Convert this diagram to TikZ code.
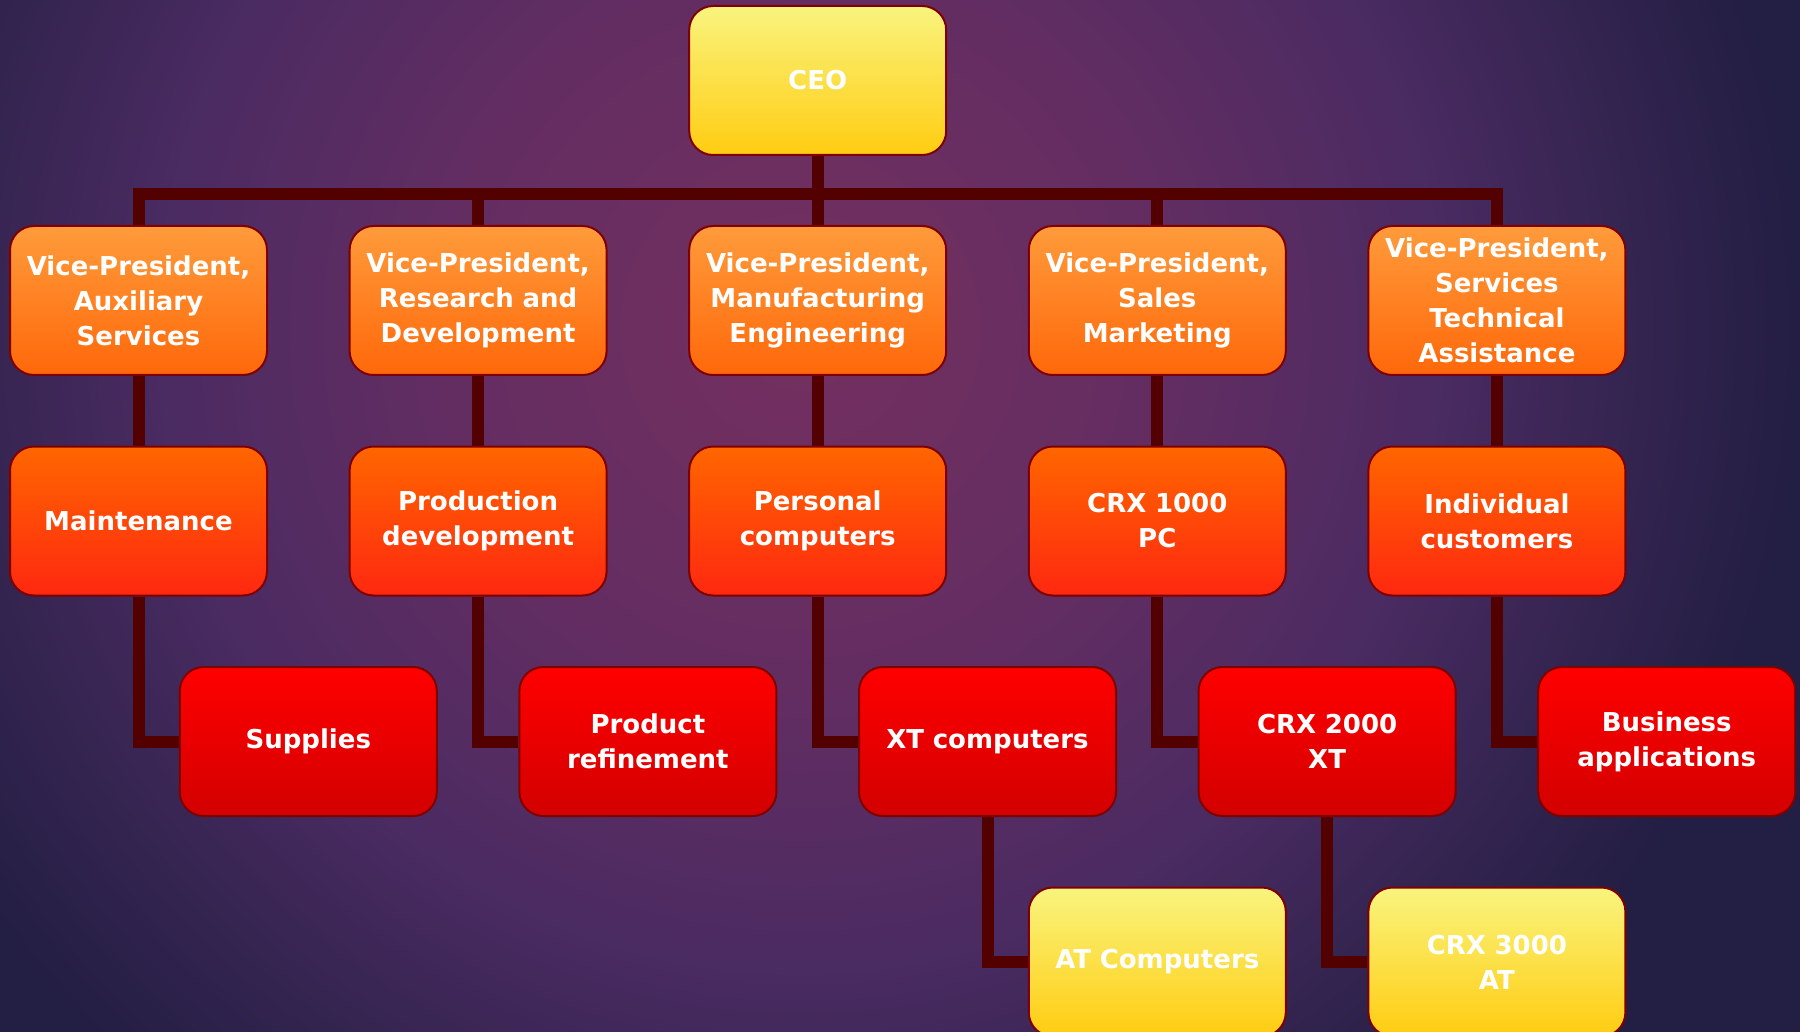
\documentclass[tikz,border=0pt]{standalone}
\usepackage{fontspec}
\setmainfont{DejaVu Sans}
\usetikzlibrary{calc}
\pgfdeclarelayer{bg}
\pgfdeclarelayer{lines}
\pgfsetlayers{bg,lines,main}
\definecolor{bgouter}{HTML}{231E43}
\definecolor{bgmid3}{HTML}{33244F}
\definecolor{bgmid}{HTML}{4A2B62}
\definecolor{bgmid2}{HTML}{632D62}
\definecolor{bginner}{HTML}{74305F}
\definecolor{conncol}{HTML}{520000}
\definecolor{edgecol}{HTML}{7F0000}
\definecolor{yelT}{HTML}{F9F47E}
\definecolor{yelB}{HTML}{FFCC11}
\definecolor{orT}{HTML}{FF9B3B}
\definecolor{orB}{HTML}{FF680A}
\definecolor{rorT}{HTML}{FF6600}
\definecolor{rorB}{HTML}{FF2810}
\definecolor{redT}{HTML}{FF0000}
\definecolor{redB}{HTML}{D30000}
\pgfdeclareradialshading{bgshade}{\pgfpoint{0bp}{0bp}}{%
  color(0bp)=(bginner); color(9bp)=(bgmid2); color(16bp)=(bgmid); color(21bp)=(bgmid3); color(25bp)=(bgouter); color(50bp)=(bgouter)}
\tikzset{
  box/.style={draw=edgecol, line width=2pt, rounded corners=24pt,
    minimum width=257pt, minimum height=149pt, text width=240pt, align=center,
    text=white, font=\fontsize{26}{35}\selectfont\bfseries, inner sep=0pt},
  yelbox/.style={box, top color=yelT, bottom color=yelB},
  orbox/.style={box, top color=orT, bottom color=orB},
  rorbox/.style={box, top color=rorT, bottom color=rorB},
  redbox/.style={box, top color=redT, bottom color=redB},
  conn/.style={draw=conncol, line width=12pt, line join=miter}
}
\begin{document}
\begin{tikzpicture}[x=1pt,y=-1pt]
\useasboundingbox (0,0) rectangle (1800,1032);
\clip (0,0) rectangle (1800,1032);
\begin{pgfonlayer}{bg}
  \fill[bgouter] (0,0) rectangle (1800,1032);
  \shade[shading=bgshade] (800,330) circle[radius=1000pt];
\end{pgfonlayer}
% columns 138.5 478.1 817.7 1157.3 1496.9
\node[yelbox] (ceo) at (817.7,80.5) {CEO};
\node[orbox] (vp1) at (138.5,300.5) {Vice-President,\\Auxiliary\\Services};
\node[orbox] (vp2) at (478.1,300.5) {Vice-President,\\Research and\\Development};
\node[orbox] (vp3) at (817.7,300.5) {Vice-President,\\Manufacturing\\Engineering};
\node[orbox] (vp4) at (1157.3,300.5) {Vice-President,\\Sales\\Marketing};
\node[orbox] (vp5) at (1496.9,300.5) {Vice-President,\\Services\\Technical\\Assistance};
\node[rorbox] (m1) at (138.5,521) {Maintenance};
\node[rorbox] (m2) at (478.1,521) {Production\\development};
\node[rorbox] (m3) at (817.7,521) {Personal\\computers};
\node[rorbox] (m4) at (1157.3,521) {CRX 1000\\PC};
\node[rorbox] (m5) at (1496.9,521) {Individual\\customers};
\node[redbox] (s1) at (308.3,741.5) {Supplies};
\node[redbox] (s2) at (647.9,741.5) {Product\\refinement};
\node[redbox] (s3) at (987.5,741.5) {XT computers};
\node[redbox] (s4) at (1327.1,741.5) {CRX 2000\\XT};
\node[redbox] (s5) at (1666.7,741.5) {Business\\applications};
\node[yelbox] (t1) at (1157.3,962) {AT Computers};
\node[yelbox] (t2) at (1496.9,962) {CRX 3000\\AT};
\coordinate (bus) at (817.7,194);
\begin{pgfonlayer}{lines}
  \draw[conn] (ceo.south) -- (bus);
  \foreach \v in {vp1,vp2,vp3,vp4,vp5} { \draw[conn] (\v.north) |- (bus); }
  \foreach \i in {1,...,5} {
    \draw[conn] (vp\i.south) -- (m\i.north);
    \draw[conn] (m\i.south) |- (s\i.west);
  }
  \draw[conn] (s3.south) |- (t1.west);
  \draw[conn] (s4.south) |- (t2.west);
\end{pgfonlayer}
\end{tikzpicture}
\end{document}
